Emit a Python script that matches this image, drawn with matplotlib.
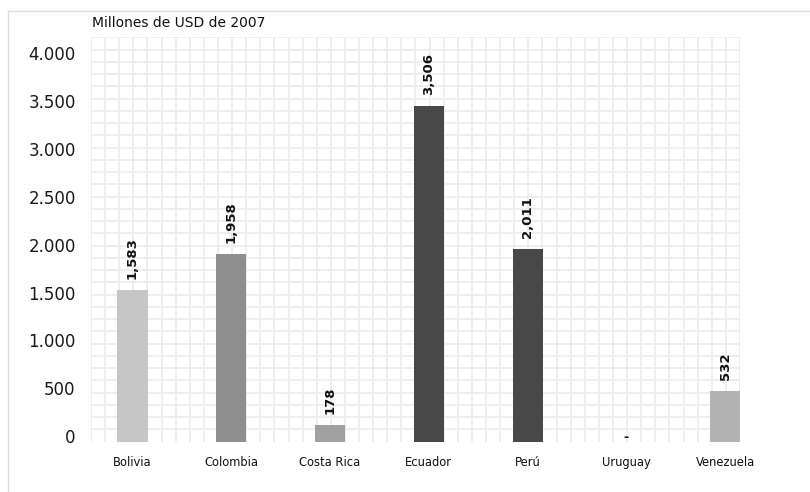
import matplotlib.pyplot as plt
import matplotlib.transforms as mtransforms
from matplotlib.lines import Line2D
import numpy as np

plt.rcParams["font.family"] = ["DejaVu Sans"]

# datos: millones de USD de 2007
paises = ["Bolivia", "Colombia", "Costa Rica", "Ecuador", "Perú", "Uruguay", "Venezuela"]
valores = [1583, 1958, 178, 3506, 2011, 0, 532]
etiquetas = ["1,583", "1,958", "178", "3,506", "2,011", "-", "532"]
colores = ["#c6c6c6", "#8e8e8e", "#a0a0a0", "#484848", "#484848", "#b0b0b0", "#b3b3b3"]
yticks = [0, 500, 1000, 1500, 2000, 2500, 3000, 3500, 4000]
ytick_labels = ["0", "500", "1.000", "1.500", "2.000", "2.500", "3.000", "3.500", "4.000"]

fig = plt.figure(figsize=(8.1, 4.92), dpi=100)
ax = fig.add_axes([0.1123, 0.1022, 0.8013, 0.822])

x = np.arange(len(paises))
ymax = 4225
xlim = (-0.42, 6.15)
ax.set_xlim(*xlim)
ax.set_ylim(0, ymax)

# cuadricula de fondo
ax.set_yticks(np.linspace(0, ymax, 34), minor=True)
ax.set_xticks(np.linspace(xlim[0], xlim[1], 47), minor=True)
ax.grid(which="minor", color="#ededed", linewidth=1.3)
ax.tick_params(which="minor", length=0)
ax.set_axisbelow(True)

ax.bar(x, valores, width=0.305, color=colores, zorder=2)

for xi, v, lab in zip(x, valores, etiquetas):
    if v == 0:
        ax.annotate(lab, (xi, v), xytext=(0, -2), textcoords="offset points",
                    ha="center", va="bottom", fontsize=9, fontweight="bold",
                    color="#111111")
    else:
        ax.annotate(lab, (xi, v), xytext=(0, 8), textcoords="offset points",
                    ha="center", va="bottom", rotation=90, fontsize=9.5,
                    fontweight="bold", color="#111111")

ax.set_xticks(x)
ax.set_xticklabels(paises, fontsize=8.3, color="#111111")
ax.set_yticks(yticks)
ax.set_yticklabels(ytick_labels, fontsize=12, color="#1a1a1a")
ax.tick_params(axis="both", which="major", length=0)
ax.tick_params(axis="x", pad=10)
ax.tick_params(axis="y", pad=11)

# etiquetas del eje y un poco por encima de su valor
shift = mtransforms.ScaledTranslation(0, 4 / 72, fig.dpi_scale_trans)
for lbl in ax.get_yticklabels():
    lbl.set_transform(lbl.get_transform() + shift)

for s in ax.spines.values():
    s.set_visible(False)

fig.text(0.1135, 0.953, "Millones de USD de 2007", fontsize=10, color="#111111",
         ha="left", va="center")

# marco fino superior e izquierdo
fig.add_artist(Line2D([8 / 810, 1], [1 - 11 / 492, 1 - 11 / 492],
                      transform=fig.transFigure, color="#dddddd", linewidth=1))
fig.add_artist(Line2D([8 / 810, 8 / 810], [0, 1 - 11 / 492],
                      transform=fig.transFigure, color="#dddddd", linewidth=1))

fig.savefig("out.png", dpi=100)
